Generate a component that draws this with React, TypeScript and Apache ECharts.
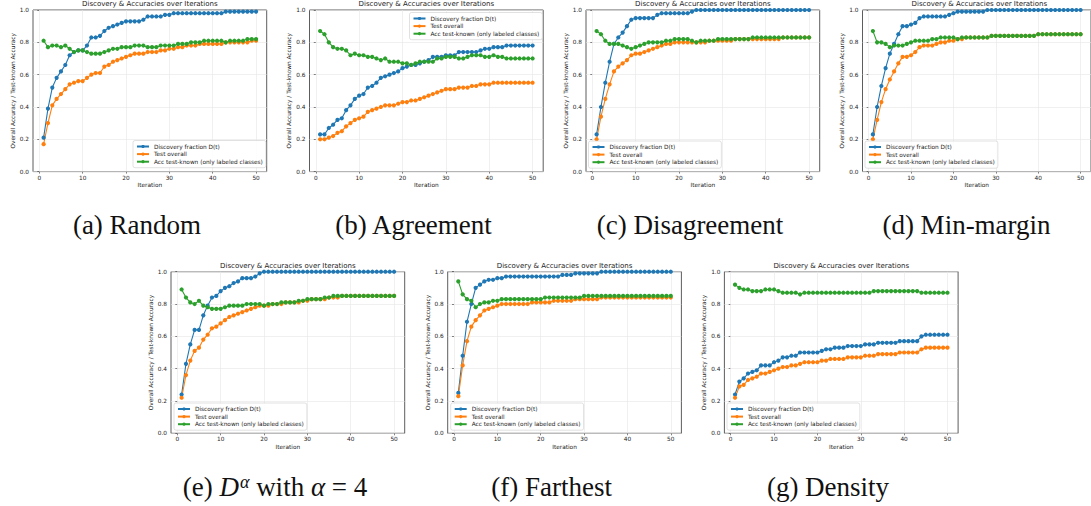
import React, { useEffect, useRef } from "react";
import * as echarts from "echarts";

// ---------- data ----------
const ITERATIONS = Array.from({ length: 50 }, (_, i) => i + 1);
const X_TICKS = [0, 10, 20, 30, 40, 50];
const SERIES_NAMES = ["Discovery fraction D(t)", "Test overall", "Acc test-known (only labeled classes)"];
const TITLE = "Discovery & Accuracies over Iterations";
const X_NAME = "Iteration";
const Y_NAME = "Overall Accuracy / Test-known Accuracy";

const randomDiscovery = [0.21,0.39,0.52,0.58,0.62,0.66,0.72,0.74,0.75,0.75,0.78,0.83,0.83,0.84,0.87,0.89,0.90,0.91,0.92,0.93,0.93,0.93,0.93,0.94,0.96,0.96,0.96,0.96,0.97,0.97,0.98,0.98,0.98,0.98,0.98,0.98,0.98,0.98,0.98,0.98,0.98,0.98,0.99,0.99,0.99,0.99,0.99,0.99,0.99,0.99];
const randomTest = [0.17,0.30,0.41,0.45,0.48,0.51,0.54,0.55,0.56,0.56,0.58,0.60,0.61,0.61,0.65,0.66,0.68,0.69,0.70,0.71,0.72,0.73,0.73,0.73,0.74,0.74,0.74,0.75,0.75,0.76,0.76,0.77,0.77,0.78,0.78,0.78,0.79,0.79,0.79,0.79,0.79,0.79,0.80,0.80,0.80,0.80,0.80,0.80,0.81,0.81];
const randomKnown = [0.81,0.77,0.78,0.78,0.77,0.78,0.76,0.74,0.75,0.75,0.74,0.73,0.73,0.73,0.74,0.75,0.76,0.76,0.77,0.77,0.77,0.78,0.78,0.78,0.77,0.77,0.77,0.78,0.78,0.78,0.78,0.79,0.79,0.79,0.80,0.80,0.80,0.81,0.81,0.81,0.81,0.81,0.80,0.81,0.81,0.81,0.81,0.82,0.82,0.82];

const agreementDiscovery = [0.23,0.23,0.27,0.29,0.32,0.33,0.38,0.41,0.45,0.47,0.48,0.52,0.53,0.55,0.58,0.59,0.60,0.61,0.62,0.64,0.65,0.66,0.66,0.67,0.68,0.69,0.71,0.71,0.71,0.72,0.72,0.72,0.74,0.74,0.74,0.74,0.74,0.75,0.76,0.76,0.77,0.77,0.77,0.78,0.78,0.78,0.78,0.78,0.78,0.78];
const agreementTest = [0.20,0.20,0.21,0.22,0.24,0.25,0.28,0.30,0.32,0.33,0.34,0.37,0.38,0.39,0.40,0.41,0.41,0.41,0.42,0.43,0.43,0.44,0.44,0.45,0.46,0.47,0.48,0.49,0.50,0.51,0.51,0.51,0.52,0.52,0.52,0.53,0.53,0.54,0.54,0.54,0.55,0.55,0.55,0.55,0.55,0.55,0.55,0.55,0.55,0.55];
const agreementKnown = [0.87,0.85,0.80,0.77,0.76,0.76,0.75,0.72,0.73,0.72,0.72,0.71,0.71,0.70,0.69,0.70,0.68,0.68,0.68,0.67,0.67,0.66,0.67,0.68,0.68,0.68,0.68,0.70,0.70,0.71,0.71,0.71,0.70,0.70,0.71,0.72,0.72,0.72,0.71,0.71,0.72,0.71,0.71,0.70,0.70,0.70,0.70,0.70,0.70,0.70];

const disagreementDiscovery = [0.23,0.40,0.55,0.68,0.79,0.83,0.86,0.90,0.94,0.95,0.95,0.95,0.95,0.95,0.97,0.98,0.98,0.98,0.98,0.98,0.98,0.98,0.99,1.00,1.00,1.00,1.00,1.00,1.00,1.00,1.00,1.00,1.00,1.00,1.00,1.00,1.00,1.00,1.00,1.00,1.00,1.00,1.00,1.00,1.00,1.00,1.00,1.00,1.00,1.00];
const disagreementTest = [0.20,0.34,0.45,0.54,0.62,0.65,0.67,0.69,0.72,0.73,0.73,0.74,0.75,0.76,0.77,0.78,0.79,0.79,0.80,0.80,0.80,0.80,0.80,0.80,0.80,0.80,0.81,0.81,0.81,0.81,0.81,0.81,0.82,0.82,0.82,0.82,0.82,0.82,0.82,0.82,0.82,0.82,0.82,0.83,0.83,0.83,0.83,0.83,0.83,0.83];
const disagreementKnown = [0.87,0.85,0.81,0.79,0.79,0.79,0.78,0.77,0.76,0.77,0.78,0.79,0.80,0.80,0.80,0.80,0.81,0.81,0.82,0.82,0.82,0.82,0.81,0.80,0.81,0.81,0.81,0.81,0.82,0.82,0.82,0.82,0.82,0.82,0.82,0.82,0.83,0.83,0.83,0.83,0.83,0.83,0.83,0.83,0.83,0.83,0.83,0.83,0.83,0.83];

const minMarginDiscovery = [0.23,0.40,0.53,0.64,0.73,0.79,0.85,0.90,0.90,0.91,0.92,0.95,0.96,0.96,0.96,0.96,0.96,0.96,0.97,0.98,0.99,0.99,0.99,0.99,0.99,0.99,0.99,1.00,1.00,1.00,1.00,1.00,1.00,1.00,1.00,1.00,1.00,1.00,1.00,1.00,1.00,1.00,1.00,1.00,1.00,1.00,1.00,1.00,1.00,1.00];
const minMarginTest = [0.20,0.32,0.43,0.51,0.57,0.62,0.67,0.71,0.71,0.72,0.74,0.77,0.78,0.78,0.78,0.79,0.80,0.80,0.81,0.81,0.82,0.82,0.83,0.83,0.83,0.83,0.83,0.83,0.84,0.84,0.84,0.84,0.84,0.84,0.84,0.84,0.84,0.84,0.84,0.85,0.85,0.85,0.85,0.85,0.85,0.85,0.85,0.85,0.85,0.85];
const minMarginKnown = [0.87,0.80,0.80,0.79,0.77,0.78,0.78,0.78,0.79,0.80,0.81,0.81,0.81,0.81,0.82,0.82,0.83,0.83,0.83,0.83,0.82,0.83,0.83,0.83,0.83,0.83,0.83,0.83,0.84,0.84,0.84,0.84,0.84,0.84,0.84,0.84,0.84,0.84,0.84,0.85,0.85,0.85,0.85,0.85,0.85,0.85,0.85,0.85,0.85,0.85];

const dAlphaDiscovery = [0.24,0.43,0.55,0.64,0.64,0.73,0.79,0.84,0.85,0.88,0.90,0.91,0.93,0.94,0.96,0.96,0.96,0.97,0.99,1.00,1.00,1.00,1.00,1.00,1.00,1.00,1.00,1.00,1.00,1.00,1.00,1.00,1.00,1.00,1.00,1.00,1.00,1.00,1.00,1.00,1.00,1.00,1.00,1.00,1.00,1.00,1.00,1.00,1.00,1.00];
const dAlphaTest = [0.22,0.36,0.45,0.51,0.53,0.58,0.61,0.65,0.66,0.68,0.70,0.72,0.73,0.74,0.75,0.76,0.77,0.78,0.79,0.79,0.79,0.80,0.80,0.80,0.81,0.81,0.81,0.81,0.82,0.82,0.83,0.83,0.83,0.83,0.84,0.84,0.84,0.85,0.85,0.85,0.85,0.85,0.85,0.85,0.85,0.85,0.85,0.85,0.85,0.85];
const dAlphaKnown = [0.89,0.84,0.81,0.80,0.82,0.79,0.78,0.77,0.77,0.77,0.78,0.79,0.79,0.79,0.79,0.80,0.80,0.80,0.80,0.79,0.80,0.80,0.80,0.81,0.81,0.81,0.81,0.82,0.82,0.83,0.83,0.83,0.83,0.84,0.84,0.85,0.85,0.85,0.85,0.85,0.85,0.85,0.85,0.85,0.85,0.85,0.85,0.85,0.85,0.85];

const farthestDiscovery = [0.25,0.48,0.69,0.80,0.90,0.92,0.94,0.95,0.95,0.96,0.96,0.97,0.97,0.97,0.97,0.97,0.97,0.97,0.97,0.97,0.97,0.97,0.97,0.97,0.98,0.98,0.98,0.99,0.99,0.99,0.99,0.99,0.99,1.00,1.00,1.00,1.00,1.00,1.00,1.00,1.00,1.00,1.00,1.00,1.00,1.00,1.00,1.00,1.00,1.00];
const farthestTest = [0.23,0.42,0.57,0.66,0.70,0.73,0.76,0.77,0.78,0.79,0.80,0.80,0.80,0.80,0.80,0.80,0.80,0.81,0.81,0.81,0.81,0.81,0.82,0.82,0.82,0.82,0.82,0.83,0.83,0.83,0.83,0.83,0.83,0.84,0.84,0.84,0.84,0.84,0.84,0.84,0.84,0.84,0.84,0.84,0.84,0.84,0.84,0.84,0.84,0.84];
const farthestKnown = [0.94,0.86,0.83,0.82,0.78,0.80,0.81,0.81,0.82,0.82,0.83,0.83,0.83,0.83,0.83,0.83,0.83,0.83,0.83,0.83,0.84,0.84,0.84,0.84,0.84,0.84,0.84,0.84,0.84,0.85,0.85,0.85,0.85,0.85,0.85,0.85,0.85,0.85,0.85,0.85,0.85,0.85,0.85,0.85,0.85,0.85,0.85,0.85,0.85,0.85];

const densityDiscovery = [0.24,0.32,0.34,0.37,0.38,0.39,0.42,0.42,0.42,0.44,0.45,0.47,0.47,0.48,0.48,0.50,0.50,0.50,0.50,0.50,0.51,0.52,0.52,0.53,0.53,0.53,0.54,0.54,0.54,0.54,0.55,0.55,0.55,0.56,0.56,0.56,0.56,0.56,0.57,0.57,0.57,0.57,0.57,0.60,0.61,0.61,0.61,0.61,0.61,0.61];
const densityTest = [0.22,0.29,0.30,0.33,0.34,0.35,0.37,0.37,0.38,0.39,0.40,0.41,0.41,0.42,0.42,0.43,0.44,0.44,0.44,0.44,0.45,0.45,0.46,0.46,0.46,0.46,0.47,0.47,0.47,0.47,0.48,0.48,0.48,0.49,0.49,0.49,0.49,0.49,0.50,0.50,0.50,0.50,0.50,0.52,0.53,0.53,0.53,0.53,0.53,0.53];
const densityKnown = [0.92,0.90,0.89,0.89,0.88,0.88,0.88,0.89,0.89,0.89,0.88,0.87,0.87,0.87,0.87,0.86,0.87,0.87,0.87,0.87,0.87,0.87,0.87,0.87,0.87,0.87,0.87,0.87,0.87,0.87,0.87,0.87,0.88,0.88,0.88,0.88,0.88,0.88,0.88,0.88,0.88,0.88,0.88,0.87,0.87,0.87,0.87,0.87,0.87,0.87];

const PANEL_DATA = [
  [randomDiscovery, randomTest, randomKnown],
  [agreementDiscovery, agreementTest, agreementKnown],
  [disagreementDiscovery, disagreementTest, disagreementKnown],
  [minMarginDiscovery, minMarginTest, minMarginKnown],
  [dAlphaDiscovery, dAlphaTest, dAlphaKnown],
  [farthestDiscovery, farthestTest, farthestKnown],
  [densityDiscovery, densityTest, densityKnown],
];

const CAPTIONS = [
  "(a) Random",
  "(b) Agreement",
  "(c) Disagreement",
  "(d) Min-margin",
  "(e) {i|D}{sup|α} with {i|α} = 4",
  "(f) Farthest",
  "(g) Density",
];

// ---------- layout & style ----------
const COLORS = ["#1f77b4", "#ff7f0e", "#2ca02c"];
const PLOT_W = 233.7;
const PLOT_H = 161.6;
const LAYOUT = [
  { left: 33.0, top: 10.0, legendLeft: 133, legendTop: 140.5, capX: 137, capY: 225 },
  { left: 309.5, top: 10.0, legendLeft: 409.5, legendTop: 12.5, capX: 413.5, capY: 225 },
  { left: 586.0, top: 10.0, legendLeft: 588.5, legendTop: 141, capX: 690, capY: 225 },
  { left: 862.5, top: 10.0, legendLeft: 865, legendTop: 141, capX: 966.5, capY: 225 },
  { left: 171.0, top: 271.7, legendLeft: 174, legendTop: 403, capX: 275, capY: 487 },
  { left: 447.7, top: 271.7, legendLeft: 450.7, legendTop: 403, capX: 551.7, capY: 487 },
  { left: 724.4, top: 271.7, legendLeft: 727, legendTop: 403, capX: 828, capY: 487 },
];
const SANS = "DejaVu Sans";
const SERIF = "Liberation Serif";
const SMALL = 5.8;
const TEXT_COLOR = "#222";

function buildOption() {
  const grid: any[] = [];
  const xAxis: any[] = [];
  const yAxis: any[] = [];
  const series: any[] = [];
  const legend: any[] = [];
  const graphic: any[] = [];

  LAYOUT.forEach((L, p) => {
    grid.push({
      left: L.left,
      top: L.top,
      width: PLOT_W,
      height: PLOT_H,
      show: true,
      borderColor: "#333",
      borderWidth: 0.8,
      backgroundColor: "transparent",
      containLabel: false,
    });
    xAxis.push({
      type: "value",
      gridIndex: p,
      min: -1.45,
      max: 52.45,
      name: X_NAME,
      nameLocation: "middle",
      nameGap: 10.5,
      nameTextStyle: { fontSize: SMALL, color: TEXT_COLOR, fontFamily: SANS },
      axisLine: { show: false },
      axisTick: { show: true, length: 2, customValues: X_TICKS, lineStyle: { color: "#333", width: 0.6 } },
      axisLabel: {
        customValues: X_TICKS,
        fontSize: SMALL,
        color: TEXT_COLOR,
        fontFamily: SANS,
        margin: 3,
        formatter: (v: number) => String(Math.round(v)),
      },
      splitLine: { show: false },
    });
    yAxis.push({
      type: "value",
      gridIndex: p,
      min: 0,
      max: 1,
      interval: 0.2,
      name: Y_NAME,
      nameLocation: "middle",
      nameRotate: 90,
      nameGap: 15,
      nameTextStyle: { fontSize: SMALL, color: TEXT_COLOR, fontFamily: SANS },
      axisLine: { show: false },
      axisTick: { show: true, length: 2, lineStyle: { color: "#333", width: 0.6 } },
      axisLabel: {
        fontSize: SMALL,
        color: TEXT_COLOR,
        fontFamily: SANS,
        margin: 4,
        formatter: (v: number) => v.toFixed(1),
      },
      splitLine: { show: true, lineStyle: { color: "#e6e6e6", width: 0.6 } },
    });

    PANEL_DATA[p].forEach((values, s) => {
      const item: any = {
        type: "line",
        name: SERIES_NAMES[s],
        xAxisIndex: p,
        yAxisIndex: p,
        data: ITERATIONS.map((it, i) => [it, values[i]]),
        symbol: "circle",
        symbolSize: 4.2,
        showSymbol: true,
        color: COLORS[s],
        lineStyle: { width: 1.1, color: COLORS[s] },
        itemStyle: { color: COLORS[s] },
        emphasis: { disabled: true },
        silent: true,
      };
      if (s === 0) {
        item.markLine = {
          silent: true,
          z: 1,
          symbol: ["none", "none"],
          label: { show: false },
          lineStyle: { type: "solid", color: "#e6e6e6", width: 0.6 },
          data: X_TICKS.map((t) => ({ xAxis: t })),
        };
      }
      series.push(item);
    });

    legend.push({
      data: SERIES_NAMES,
      orient: "vertical",
      left: L.legendLeft,
      top: L.legendTop,
      itemWidth: 12,
      itemHeight: 4,
      itemGap: 1.6,
      padding: [3, 3, 3, 3],
      backgroundColor: "rgba(255,255,255,0.85)",
      borderColor: "#cccccc",
      borderWidth: 0.6,
      borderRadius: 2,
      selectedMode: false,
      textStyle: { fontSize: SMALL, color: TEXT_COLOR, fontFamily: SANS, lineHeight: 6 },
    });

    graphic.push({
      type: "text",
      x: L.left + PLOT_W / 2,
      y: L.top - 6,
      silent: true,
      style: {
        text: TITLE,
        fontSize: 7,
        fontFamily: SANS,
        fill: TEXT_COLOR,
        align: "center",
        verticalAlign: "middle",
      },
    });

    graphic.push({
      type: "text",
      x: L.capX,
      y: L.capY,
      silent: true,
      style: {
        text: CAPTIONS[p],
        fontSize: 27,
        fontFamily: SERIF,
        fill: "#111",
        align: "center",
        verticalAlign: "middle",
        rich: {
          i: { fontSize: 27, fontFamily: SERIF, fontStyle: "italic", fill: "#111" },
          sup: { fontSize: 18, fontFamily: SERIF, fontStyle: "italic", fill: "#111", verticalAlign: "top", padding: [0, 0, 10, 1] },
        },
      },
    });
  });

  return {
    animation: false,
    backgroundColor: "#ffffff",
    grid,
    xAxis,
    yAxis,
    series,
    legend,
    graphic,
  };
}

export default function App() {
  const ref = useRef<HTMLDivElement | null>(null);
  useEffect(() => {
    if (!ref.current) return;
    const chart = echarts.init(ref.current, null, { renderer: "svg" });
    chart.setOption(buildOption() as any);
    return () => chart.dispose();
  }, []);
  return (
    <div
      ref={ref}
      style={{ position: "absolute", left: 0, top: 0, width: 1091, height: 506, background: "#fff" }}
    />
  );
}
